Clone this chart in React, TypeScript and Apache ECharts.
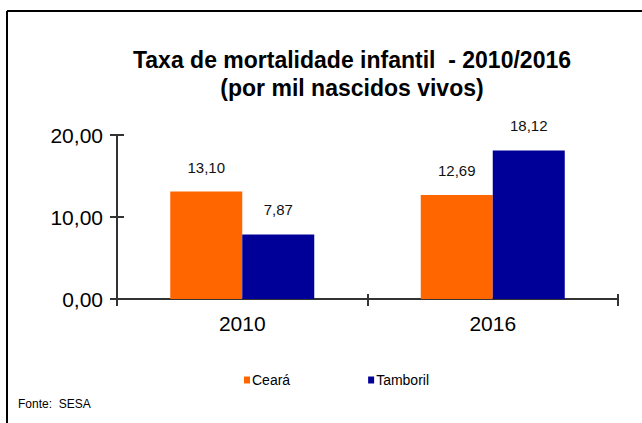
import React, { useEffect, useRef } from "react";
import * as echarts from "echarts";

const categories = ["2010", "2016"];
const cearaValues = [13.1, 12.69];
const tamborilValues = [7.87, 18.12];
const seriesNames = ["Ceará", "Tamboril"];
const titleLines = ["Taxa de mortalidade infantil  - 2010/2016", "(por mil nascidos vivos)"];
const sourceText = "Fonte:  SESA";

const fmt = (v: number) => v.toFixed(2).replace(".", ",");

export default function App() {
  const ref = useRef<HTMLDivElement>(null);
  useEffect(() => {
    if (!ref.current) return;
    const chart = echarts.init(ref.current, null, { renderer: "svg" });
    const font = "'Liberation Sans', Arial, sans-serif";
    const axisColor = "#333333";
    const grid = { left: 117, right: 24, top: 135, bottom: 124 };
    const yBase = {
      type: "value" as const,
      min: 0,
      max: 20,
      interval: 10,
      splitLine: { show: false },
    };
    chart.setOption({
      animation: false,
      backgroundColor: "#ffffff",
      title: {
        text: titleLines.join("\n"),
        left: 347,
        textAlign: "center",
        top: 41,
        textStyle: {
          fontFamily: font,
          fontSize: 23,
          fontWeight: "bold",
          color: "#000000",
          lineHeight: 28,
        },
      },
      grid,
      legend: {
        data: seriesNames,
        left: 239,
        top: 368,
        itemWidth: 6,
        itemHeight: 7,
        itemGap: 78,
        icon: "rect",
        textStyle: { fontFamily: font, fontSize: 14, color: "#000000", padding: [0, 0, 0, -3] },
      },
      xAxis: [
        {
          type: "category",
          data: categories,
          axisLine: { lineStyle: { color: axisColor, width: 2 } },
          axisTick: { show: true, length: 7, lineStyle: { color: axisColor, width: 2 } },
          axisLabel: { fontFamily: font, fontSize: 21, color: "#000000", margin: 14 },
        },
        {
          type: "category",
          data: categories,
          position: "bottom",
          axisLine: { show: false },
          axisTick: { show: true, inside: true, length: 5, lineStyle: { color: axisColor, width: 2 } },
          axisLabel: { show: false },
        },
      ],
      yAxis: [
        {
          ...yBase,
          axisLine: { show: true, lineStyle: { color: axisColor, width: 2 } },
          axisTick: { show: true, length: 7, lineStyle: { color: axisColor, width: 2 } },
          axisLabel: {
            fontFamily: font,
            fontSize: 21,
            color: "#000000",
            margin: 14,
            formatter: (v: number) => fmt(v),
          },
        },
        {
          ...yBase,
          position: "left",
          axisLine: { show: false },
          axisTick: { show: true, inside: true, length: 7, lineStyle: { color: axisColor, width: 2 } },
          axisLabel: { show: false },
        },
      ],
      series: [
        {
          name: seriesNames[0],
          type: "bar",
          data: cearaValues,
          barWidth: 72,
          barGap: "0%",
          itemStyle: { color: "#FF6600" },
          label: {
            show: true,
            position: "top",
            distance: 17,
            fontFamily: font,
            fontSize: 15,
            color: "#111111",
            formatter: (p: any) => fmt(p.value),
          },
        },
        {
          name: seriesNames[1],
          type: "bar",
          data: tamborilValues,
          barWidth: 72,
          barGap: "0%",
          itemStyle: { color: "#000099" },
          label: {
            show: true,
            position: "top",
            distance: 17,
            fontFamily: font,
            fontSize: 15,
            color: "#111111",
            formatter: (p: any) => fmt(p.value),
          },
        },
      ],
      graphic: [
        {
          type: "line",
          shape: { x1: 7, y1: 11, x2: 642, y2: 11 },
          style: { stroke: "#000000", lineWidth: 2 },
        },
        {
          type: "line",
          shape: { x1: 7, y1: 11, x2: 7, y2: 423 },
          style: { stroke: "#000000", lineWidth: 2 },
        },
        {
          type: "text",
          left: 18,
          top: 398,
          style: { text: sourceText, fontFamily: font, fontSize: 12, fill: "#000000" },
        },
      ],
    });
    return () => chart.dispose();
  }, []);
  return <div ref={ref} style={{ width: 642, height: 423, position: "absolute", left: 0, top: 0 }} />;
}
